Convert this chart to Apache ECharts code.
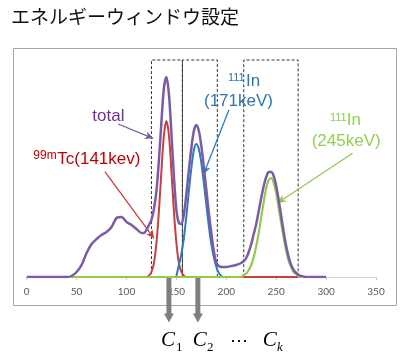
<!DOCTYPE html>
<html>
<head>
<meta charset="utf-8">
<script src="https://cdn.jsdelivr.net/npm/echarts@6/dist/echarts.min.js"></script>
<style>html,body{margin:0;padding:0;background:#fff;}#c{width:413px;height:359px;}</style>
</head>
<body>
<div id="c"></div>
<script>
// total spectrum: energy (keV) / counts
const totalEnergy = [0,40,45,50,55,60,65,70,75,80,85,90,95,100,105,110,115,117.5,120,122.5,125,127.5,130,132.5,135,137.5,140,142.5,145,147.5,150,152.5,155,157.5,160,162.5,165,167.5,170,172.5,175,177.5,180,182.5,185,187.5,190,192.5,195,200,205,210,215,217.5,220,222.5,225,227.5,230,232.5,235,237.5,240,242.5,245,247.5,250,252.5,255,257.5,260,262.5,265,267.5,270,272.5,275,277.5,280,290,300];
const totalCounts = [0,0,1,5,12,24,33,38,42,45,50,59,60,55,52,48,44,44,47,52,57,68,86,117,155,189,200,183,144,101,67,54,53,63,83,107,129,146,152,146,131,110,87,64,44,26,14,11,10,10,11,12,14,16,19,25,33,43,53,66,79,91,100,105,105,101,91,77,61,45,31,20,12,7,4,2,1,0.5,0,0,0];
// 99mTc (141 keV)
const tcEnergy = [120,122.5,125,127.5,130,132.5,135,137.5,140,142.5,145,147.5,150,152.5,155,157.5,160,272];
const tcCounts = [0,1.4,5,14,34,66,106,142,156,142,106,66,34,14,5,1.4,0,0];
// 111In (171 keV)
const in171Energy = [150,152.5,155,157.5,160,162.5,165,167.5,170,172.5,175,177.5,180,182.5,185,187.5,190,192.5,195,197.5];
const in171Counts = [1,12,23,39,61,86,109,127,133,128,114,94,72,51,33,20,10,4,1,0];
// 111In (245 keV)
const in245Energy = [45,215,217.5,220,222.5,225,227.5,230,232.5,235,237.5,240,242.5,245,247.5,250,252.5,255,257.5,260,262.5,265,267.5,270,272.5,275];
const in245Counts = [0,0,2,3.5,7,12,20,31,44,60,75,89,97,99,94,84,69,54,39,26,16,10,5,3,1,0];
// Energy windows [from, to] (keV)
const windows = [[125,156],[156,191],[217.5,272]];
const windowTop = 217;
// Channel arrow energies
const channelEnergies = [142.5, 171.5];

function pairs(xs, ys){ return xs.map((x,i)=>[x, ys[i]]); }

const PURPLE = '#7B5AA6', RED = '#C8403C', BLUE = '#2C7BC0', GREEN = '#96C84E';

const chart = echarts.init(document.getElementById('c'), null, {renderer:'canvas'});

function lineSeries(name, xs, ys, color, z, w){
  return {
    name, type:'line', data: pairs(xs, ys), smooth:0.3,
    showSymbol:false, symbol:'none', z,
    lineStyle:{color, width:w}, itemStyle:{color}, silent:true
  };
}

function arrow(from, to, color){
  return [{coord:from, lineStyle:{color, width:1.3, type:'solid'}},{coord:to}];
}

const option = {
  animation:false,
  grid:{left:26.7, right:37, top:50, bottom:82},
  xAxis:{
    type:'value', min:0, max:350, interval:50,
    axisLine:{show:true, lineStyle:{color:'#D0D0D0', width:1}},
    axisTick:{show:true, length:3, lineStyle:{color:'#C8C8C8'}},
    splitLine:{show:false},
    axisLabel:{color:'#595959', fontSize:10, fontFamily:'Lato', margin:10}
  },
  yAxis:{type:'value', min:0, max:227, show:false, splitLine:{show:false}},
  series:[
    lineSeries('99mTc', tcEnergy, tcCounts, RED, 2, 2),
    lineSeries('111In171', in171Energy, in171Counts, BLUE, 3, 2),
    lineSeries('111In245', in245Energy, in245Counts, GREEN, 4, 2.2),
    lineSeries('total', totalEnergy, totalCounts, PURPLE, 5, 2.5),
    {
      type:'line', data:[], z:6, silent:true,
      markArea:{
        silent:true,
        itemStyle:{color:'rgba(0,0,0,0)', borderColor:'#333', borderWidth:1, borderType:[3,2]},
        data: windows.map(w=>[{coord:[w[0],0]},{coord:[w[1],windowTop]}])
      },
      markLine:{
        silent:true, symbol:['none','arrow'], symbolSize:[6,8],
        label:{show:false},
        lineStyle:{type:'solid'},
        data:[
          arrow([91.6,153],[126.6,138.7],PURPLE),
          arrow([78.3,105.3],[127.6,38.7],RED),
          arrow([202.6,167],[177.3,103],BLUE),
          arrow([326.6,123.7],[251.6,74.3],GREEN)
        ]
      }
    }
  ]
};
chart.setOption(option);

const FONT = '"Liberation Sans", Arial, sans-serif';
const SERIF = '"Liberation Serif", "DejaVu Serif", serif';
// place text by its baseline
function txt(x, base, s, size, color, family, extra){
  return {type:'text', x, y: base - 0.8*size, z:100,
    style:Object.assign({text:s, fill:color, fontSize:size, fontFamily:family||FONT, align:'left', verticalAlign:'top'}, extra||{})};
}
const graphics = [
  {type:'rect', shape:{x:13.5, y:48.5, width:383, height:257}, style:{fill:'none', stroke:'#A6A6A6', lineWidth:1}, z:0},
  {type:'text', x:11, y:17, z:100, style:{text:'エネルギーウィンドウ設定', fill:'#111', fontSize:19, fontFamily:'"Noto Sans CJK JP"', align:'left', verticalAlign:'middle'}},
  txt(92.3, 121.7, 'total', 17, '#7030A0'),
  txt(33.3, 159.3, '99m', 12, '#C00000'),
  txt(57.3, 164, 'Tc(141kev)', 17, '#C00000'),
  txt(228, 81.7, '111', 11, '#2E75B6'),
  txt(246, 86.7, 'In', 17, '#2E75B6'),
  txt(204, 106.7, '(171keV)', 17, '#2E75B6'),
  txt(330, 121, '111', 11, '#92D050'),
  txt(346.7, 125, 'In', 17, '#92D050'),
  txt(311.7, 146, '(245keV)', 17, '#92D050'),
  txt(161, 346.7, 'C', 21, '#000', SERIF, {fontStyle:'italic'}),
  txt(176, 351.7, '1', 13, '#000', SERIF),
  txt(192.8, 346.7, 'C', 21, '#000', SERIF, {fontStyle:'italic'}),
  txt(207, 351.7, '2', 13, '#000', SERIF),
  txt(229.5, 346.7, '⋯', 18, '#000', SERIF),
  txt(262.8, 346.7, 'C', 21, '#000', SERIF, {fontStyle:'italic'}),
  txt(277, 351.7, 'k', 13, '#000', SERIF, {fontStyle:'italic'})
];
channelEnergies.forEach(e=>{
  const px = chart.convertToPixel({xAxisIndex:0}, e);
  graphics.push({type:'rect', z:90, shape:{x:px-2.5, y:278, width:5, height:36}, style:{fill:'#7F7F7F'}});
  graphics.push({type:'polygon', z:90, shape:{points:[[px-5,313.5],[px+5,313.5],[px,322.5]]}, style:{fill:'#7F7F7F'}});
});
chart.setOption({graphic:graphics});
</script>
</body>
</html>
